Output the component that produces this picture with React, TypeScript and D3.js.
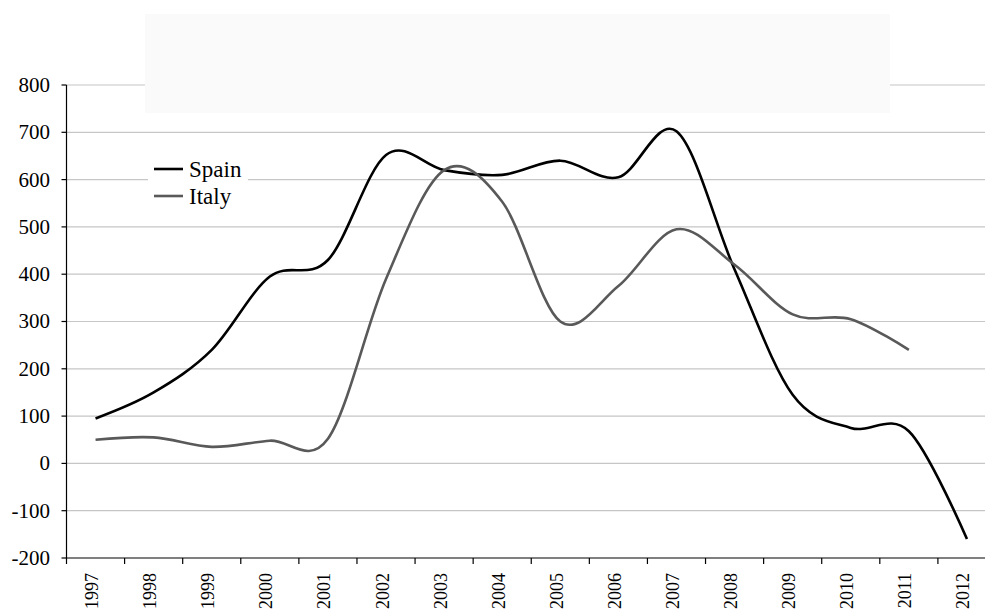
import React from "react";
import * as d3 from "d3";

const years = ["1997","1998","1999","2000","2001","2002","2003","2004","2005","2006","2007","2008","2009","2010","2011","2012"];
const spain = [95, 150, 240, 395, 430, 652, 620, 610, 640, 605, 702, 410, 145, 75, 68, -160];
const italy = [50, 55, 35, 48, 52, 390, 620, 553, 300, 375, 495, 420, 315, 305, 240, null];
const yTicks = [-200, -100, 0, 100, 200, 300, 400, 500, 600, 700, 800];
const seriesNames = ["Spain", "Italy"];
const seriesColors = ["#000000", "#595959"];

const W = 985, H = 613;
const x0 = 66.5, x1 = 996, yTop = 85, yBot = 558;
const font = "'Liberation Serif', 'Times New Roman', Times, serif";

export default function App() {
  const x = d3.scaleBand<string>().domain(years).range([x0, x1]);
  const y = d3.scaleLinear().domain([-200, 800]).range([yBot, yTop]);
  const cx = (i: number) => (x(years[i]) as number) + x.bandwidth() / 2;
  const line = d3.line<number | null>()
    .defined(d => d !== null)
    .x((_, i) => cx(i))
    .y(d => y(d as number))
    .curve(d3.curveCardinal.tension(0));
  const data = [spain, italy];
  const ts = { fontFamily: font };
  return (
    <svg width={W} height={H} style={{ position: "absolute", left: 0, top: 0, background: "#fff" }}>
      <rect x={0} y={0} width={W} height={H} fill="#fff" />
      {yTicks.map(t => (
        <g key={t}>
          {t !== -200 && <line x1={x0} x2={x1} y1={y(t)} y2={y(t)} stroke="#c6c6c6" strokeWidth={1.2} />}
          <line x1={x0 - 5} x2={x0} y1={y(t)} y2={y(t)} stroke="#000" strokeWidth={1.2} />
          <text x={50} y={y(t)} dy="0.33em" textAnchor="end" style={ts} fontSize={21} fill="#000">{t}</text>
        </g>
      ))}
      <rect x={145} y={14} width={745} height={99} fill="#fafafa" />
      <line x1={x0} x2={x0} y1={yTop} y2={yBot} stroke="#000" strokeWidth={1.2} />
      <line x1={x0} x2={x1} y1={yBot} y2={yBot} stroke="#000" strokeWidth={1.2} />
      {years.map((yr, i) => (
        <g key={yr}>
          <line x1={x(yr)} x2={x(yr)} y1={yBot} y2={yBot + 6} stroke="#000" strokeWidth={1.2} />
          <text transform={`translate(${cx(i) + 2.5},${yBot + 15}) rotate(-90)`} textAnchor="end" style={ts} fontSize={18} fill="#000">{yr}</text>
        </g>
      ))}
      <line x1={x1} x2={x1} y1={yBot} y2={yBot + 6} stroke="#000" strokeWidth={1.2} />
      <rect x={148} y={155} width={100} height={56} fill="#fff" />
      {data.map((d, k) => (
        <path key={k} d={line(d) as string} fill="none" stroke={seriesColors[k]} strokeWidth={2.6} strokeLinejoin="round" />
      ))}
      {seriesNames.map((n, k) => (
        <g key={n} transform={`translate(154,${169 + k * 27})`}>
          <line x1={0} x2={29} y1={0} y2={0} stroke={seriesColors[k]} strokeWidth={2.6} />
          <text x={35} y={0} dy="0.33em" style={ts} fontSize={23} fill="#000">{n}</text>
        </g>
      ))}
    </svg>
  );
}
